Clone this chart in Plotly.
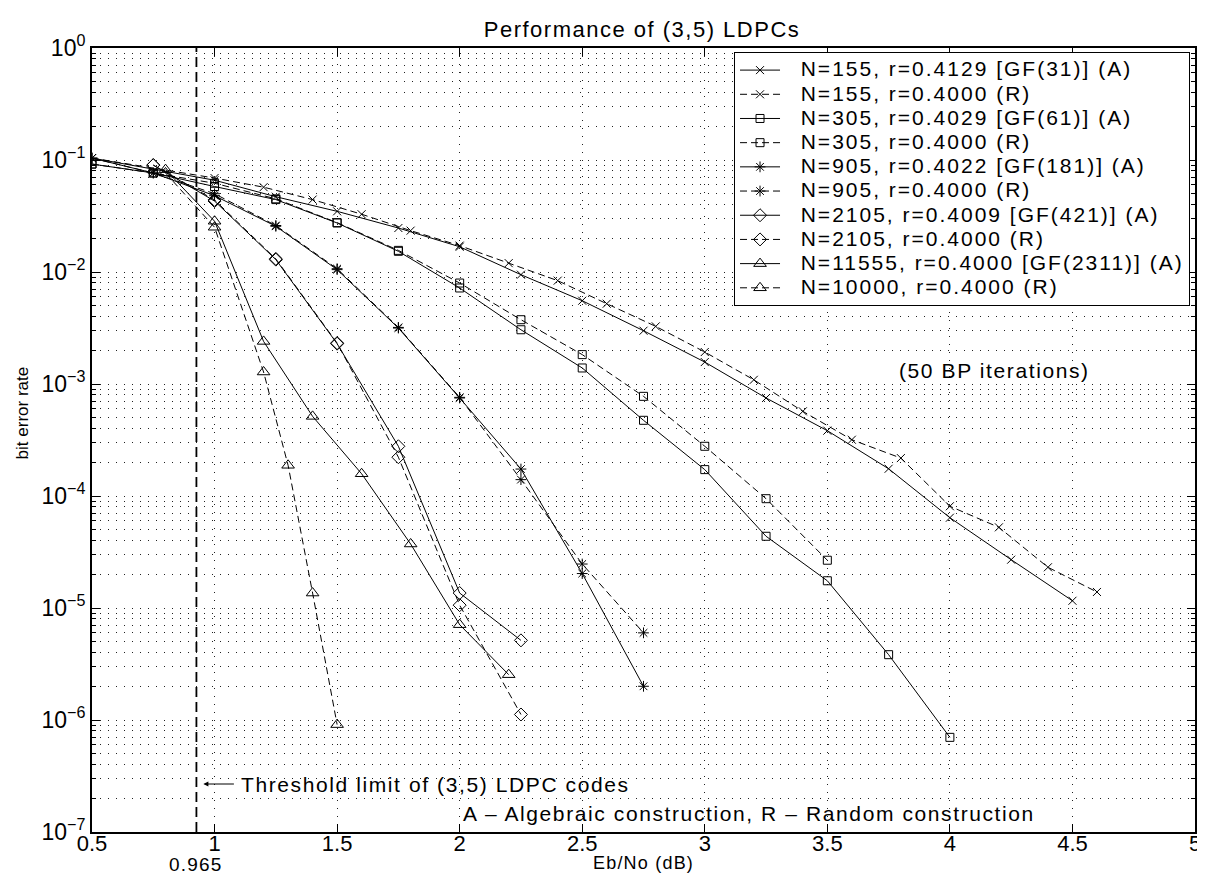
import plotly.graph_objects as go

# ---------------- data ----------------
N155_A_x = [0.5, 1.0, 1.25, 1.5, 1.75, 2.0, 2.25, 2.5, 2.75, 3.0, 3.25, 3.5, 3.75, 4.0, 4.25, 4.5]
N155_A_y = [0.104, 0.066, 0.047, 0.0348, 0.0247, 0.0168, 0.00946, 0.00554, 0.00299, 0.00157,
            7.5e-4, 3.83e-4, 1.75e-4, 6.4e-5, 2.7e-5, 1.16e-5]
N155_R_x = [0.5, 1.0, 1.2, 1.4, 1.6, 1.8, 2.0, 2.2, 2.4, 2.6, 2.8, 3.0, 3.2, 3.4, 3.6, 3.8, 4.0, 4.2, 4.4, 4.6]
N155_R_y = [0.104, 0.069, 0.0572, 0.0443, 0.0328, 0.0234, 0.0172, 0.0120, 0.00837, 0.00521, 0.00327,
            0.00193, 0.00109, 5.7e-4, 3.18e-4, 2.18e-4, 8.1e-5, 5.25e-5, 2.31e-5, 1.39e-5]

N305_A_x = [0.5, 0.75, 1.0, 1.25, 1.5, 1.75, 2.0, 2.25, 2.5, 2.75, 3.0, 3.25, 3.5, 3.75, 4.0]
N305_A_y = [0.092, 0.0766, 0.058, 0.0443, 0.0274, 0.0153, 0.0072, 0.00305, 0.00139, 4.74e-4,
            1.72e-4, 4.37e-5, 1.75e-5, 3.83e-6, 7.0e-7]
N305_R_x = [0.5, 0.75, 1.0, 1.25, 1.5, 1.75, 2.0, 2.25, 2.5, 2.75, 3.0, 3.25, 3.5]
N305_R_y = [0.092, 0.0766, 0.062, 0.045, 0.0276, 0.0156, 0.00797, 0.00375, 0.00183, 7.76e-4,
            2.78e-4, 9.46e-5, 2.67e-5]

N905_x = [0.5, 0.75, 1.0, 1.25, 1.5, 1.75, 2.0, 2.25, 2.5, 2.75]
N905_A_y = [0.104, 0.0766, 0.048, 0.0256, 0.0105, 0.00316, 7.5e-4, 1.74e-4, 2.03e-5, 2.0e-6]
N905_R_y = [0.104, 0.0766, 0.050, 0.0260, 0.0107, 0.0032, 7.6e-4, 1.4e-4, 2.47e-5, 6.0e-6]

N2105_x = [0.75, 1.0, 1.25, 1.5, 1.75, 2.0, 2.25]
N2105_A_y = [0.090, 0.043, 0.0129, 0.00229, 2.78e-4, 1.36e-5, 5.14e-6]
N2105_R_y = [0.090, 0.044, 0.0131, 0.00232, 2.22e-4, 1.06e-5, 1.12e-6]

N11555_A_x = [0.8, 1.0, 1.2, 1.4, 1.6, 1.8, 2.0, 2.2]
N11555_A_y = [0.082, 0.0284, 0.0024, 5.14e-4, 1.58e-4, 3.73e-5, 7.1e-6, 2.54e-6]
N10000_R_x = [0.8, 1.0, 1.2, 1.3, 1.4, 1.5]
N10000_R_y = [0.0766, 0.0251, 0.00128, 1.88e-4, 1.36e-5, 9.1e-7]

LEGEND_NAMES = [
    "N=155, r=0.4129 [GF(31)] (A)",
    "N=155, r=0.4000 (R)",
    "N=305, r=0.4029 [GF(61)] (A)",
    "N=305, r=0.4000 (R)",
    "N=905, r=0.4022 [GF(181)] (A)",
    "N=905, r=0.4000 (R)",
    "N=2105, r=0.4009 [GF(421)] (A)",
    "N=2105, r=0.4000 (R)",
    "N=11555, r=0.4000 [GF(2311)] (A)",
    "N=10000, r=0.4000 (R)",
]

THRESHOLD_X = 0.926
THRESHOLD_LABEL = "0.965"

X_TICKS = [0.5, 1, 1.5, 2, 2.5, 3, 3.5, 4, 4.5, 5]
X_TICK_TEXT = ["0.5", "1", "1.5", "2", "2.5", "3", "3.5", "4", "4.5", "5"]
Y_EXPONENTS = [0, -1, -2, -3, -4, -5, -6, -7]

# ---------------- layout geometry ----------------
W, H = 1205, 875
L, R, T, B = 84, 12, 40, 51
PW, PH = W - L - R, H - T - B
FONT = "Liberation Sans, Arial, Helvetica, sans-serif"
GRID = dict(showgrid=True, gridcolor="#222", gridwidth=1, griddash="1px,7px")


def px(xp):
    return (xp - L) / PW


def py(yp):
    return 1 - (yp - T) / PH


def wide(s, spacing=1.6, size=None):
    st = "letter-spacing:%spx" % spacing
    if size:
        st = "font-size:%spx;" % size + st
    return '<span style="%s">%s</span>' % (st, s)


series = [
    (N155_A_x, N155_A_y, "solid", "x-thin-open", 8),
    (N155_R_x, N155_R_y, "dash", "x-thin-open", 8),
    (N305_A_x, N305_A_y, "solid", "square-open", 8),
    (N305_R_x, N305_R_y, "dash", "square-open", 8),
    (N905_x, N905_A_y, "solid", "asterisk-open", 9),
    (N905_x, N905_R_y, "dash", "asterisk-open", 9),
    (N2105_x, N2105_A_y, "solid", "diamond-open", 10),
    (N2105_x, N2105_R_y, "dash", "diamond-open", 10),
    (N11555_A_x, N11555_A_y, "solid", "triangle-up-open", 11),
    (N10000_R_x, N10000_R_y, "dash", "triangle-up-open", 11),
]

fig = go.Figure()
for (xs, ys, dash, sym, size), name in zip(series, LEGEND_NAMES):
    fig.add_trace(go.Scatter(
        x=xs, y=ys, name=wide("\u00a0\u00a0" + name, 2.0, 21), mode="lines+markers",
        line=dict(color="black", width=1, dash=("7px,4px" if dash == "dash" else "solid")),
        marker=dict(symbol=sym, size=size, color="black", line=dict(color="black", width=1)),
    ))

minor_vals = [m * 10.0 ** e for e in Y_EXPONENTS[1:] for m in range(2, 10)]

fig.update_layout(
    width=W, height=H,
    margin=dict(l=L, r=R, t=T, b=B),
    paper_bgcolor="white", plot_bgcolor="white",
    font=dict(family=FONT, size=21, color="black"),
    title=dict(text=wide("Performance of (3,5) LDPCs", 1.5), x=px(637), xref="paper", xanchor="center",
               y=1 - 21 / H, yref="container", yanchor="middle",
               font=dict(size=22, family=FONT, color="black")),
    showlegend=True,
    legend=dict(x=px(1188), y=py(44), xanchor="right", yanchor="top",
                bgcolor="white", bordercolor="black", borderwidth=1,
                font=dict(size=16.3, family=FONT), tracegroupgap=0, itemwidth=40,
                traceorder="normal"),
    xaxis=dict(
        range=[0.5, 5], tickmode="array", tickvals=X_TICKS, ticktext=X_TICK_TEXT,
        showline=True, linecolor="black", linewidth=2, mirror="ticks",
        ticks="inside", ticklen=8, tickwidth=1, tickcolor="black",
        zeroline=False, tickfont=dict(size=22), ticklabelstandoff=-9,
        **GRID,
    ),
    yaxis=dict(
        type="log", range=[-7, 0], tickmode="array",
        tickvals=[10.0 ** e for e in Y_EXPONENTS],
        ticktext=["10<sup>%s</sup>" % ("0" if e == 0 else "\u2212%d" % (-e)) for e in Y_EXPONENTS],
        showline=True, linecolor="black", linewidth=2, mirror="ticks",
        ticks="inside", ticklen=8, tickwidth=1, tickcolor="black",
        zeroline=False, tickfont=dict(size=23),
        minor=dict(tickmode="array", tickvals=minor_vals, ticks="inside", ticklen=4,
                   tickcolor="black", **GRID),
        **GRID,
    ),
)

# threshold vertical dashed line
fig.add_shape(type="line", xref="x", yref="paper", x0=THRESHOLD_X, x1=THRESHOLD_X, y0=0, y1=1,
              line=dict(color="black", width=1.8, dash="10px,5px"))

# annotations
fig.add_annotation(xref="paper", yref="paper", x=px(14), y=py(405), text="bit error rate",
                   textangle=-90, showarrow=False, font=dict(size=17), xanchor="center", yanchor="middle")
fig.add_annotation(xref="paper", yref="paper", x=px(638), y=py(855), text=wide("Eb/No (dB)", 1.2),
                   showarrow=False, font=dict(size=18), xanchor="center", yanchor="middle")
fig.add_annotation(xref="x", yref="paper", x=THRESHOLD_X, y=py(856), text=wide(THRESHOLD_LABEL, 1.2),
                   showarrow=False, font=dict(size=19), xanchor="center", yanchor="middle")
fig.add_annotation(xref="paper", yref="paper", x=px(893), y=py(362), text=wide("(50 BP iterations)"),
                   showarrow=False, font=dict(size=21), xanchor="left", yanchor="middle")
fig.add_annotation(xref="paper", yref="paper", x=px(232), y=py(776),
                   text=wide("Threshold limit of (3,5) LDPC codes"),
                   showarrow=False, font=dict(size=21), xanchor="left", yanchor="middle")
fig.add_annotation(xref="paper", yref="paper", x=px(196), y=py(776), text="",
                   showarrow=True, axref="pixel", ayref="pixel", ax=32, ay=0,
                   arrowhead=2, arrowsize=1, arrowwidth=1, arrowcolor="black")
fig.add_annotation(xref="paper", yref="paper", x=px(455), y=py(805),
                   text=wide("A \u2013 Algebraic construction, R \u2013 Random construction"),
                   showarrow=False, font=dict(size=21), xanchor="left", yanchor="middle")

fig.write_html("out.html")
